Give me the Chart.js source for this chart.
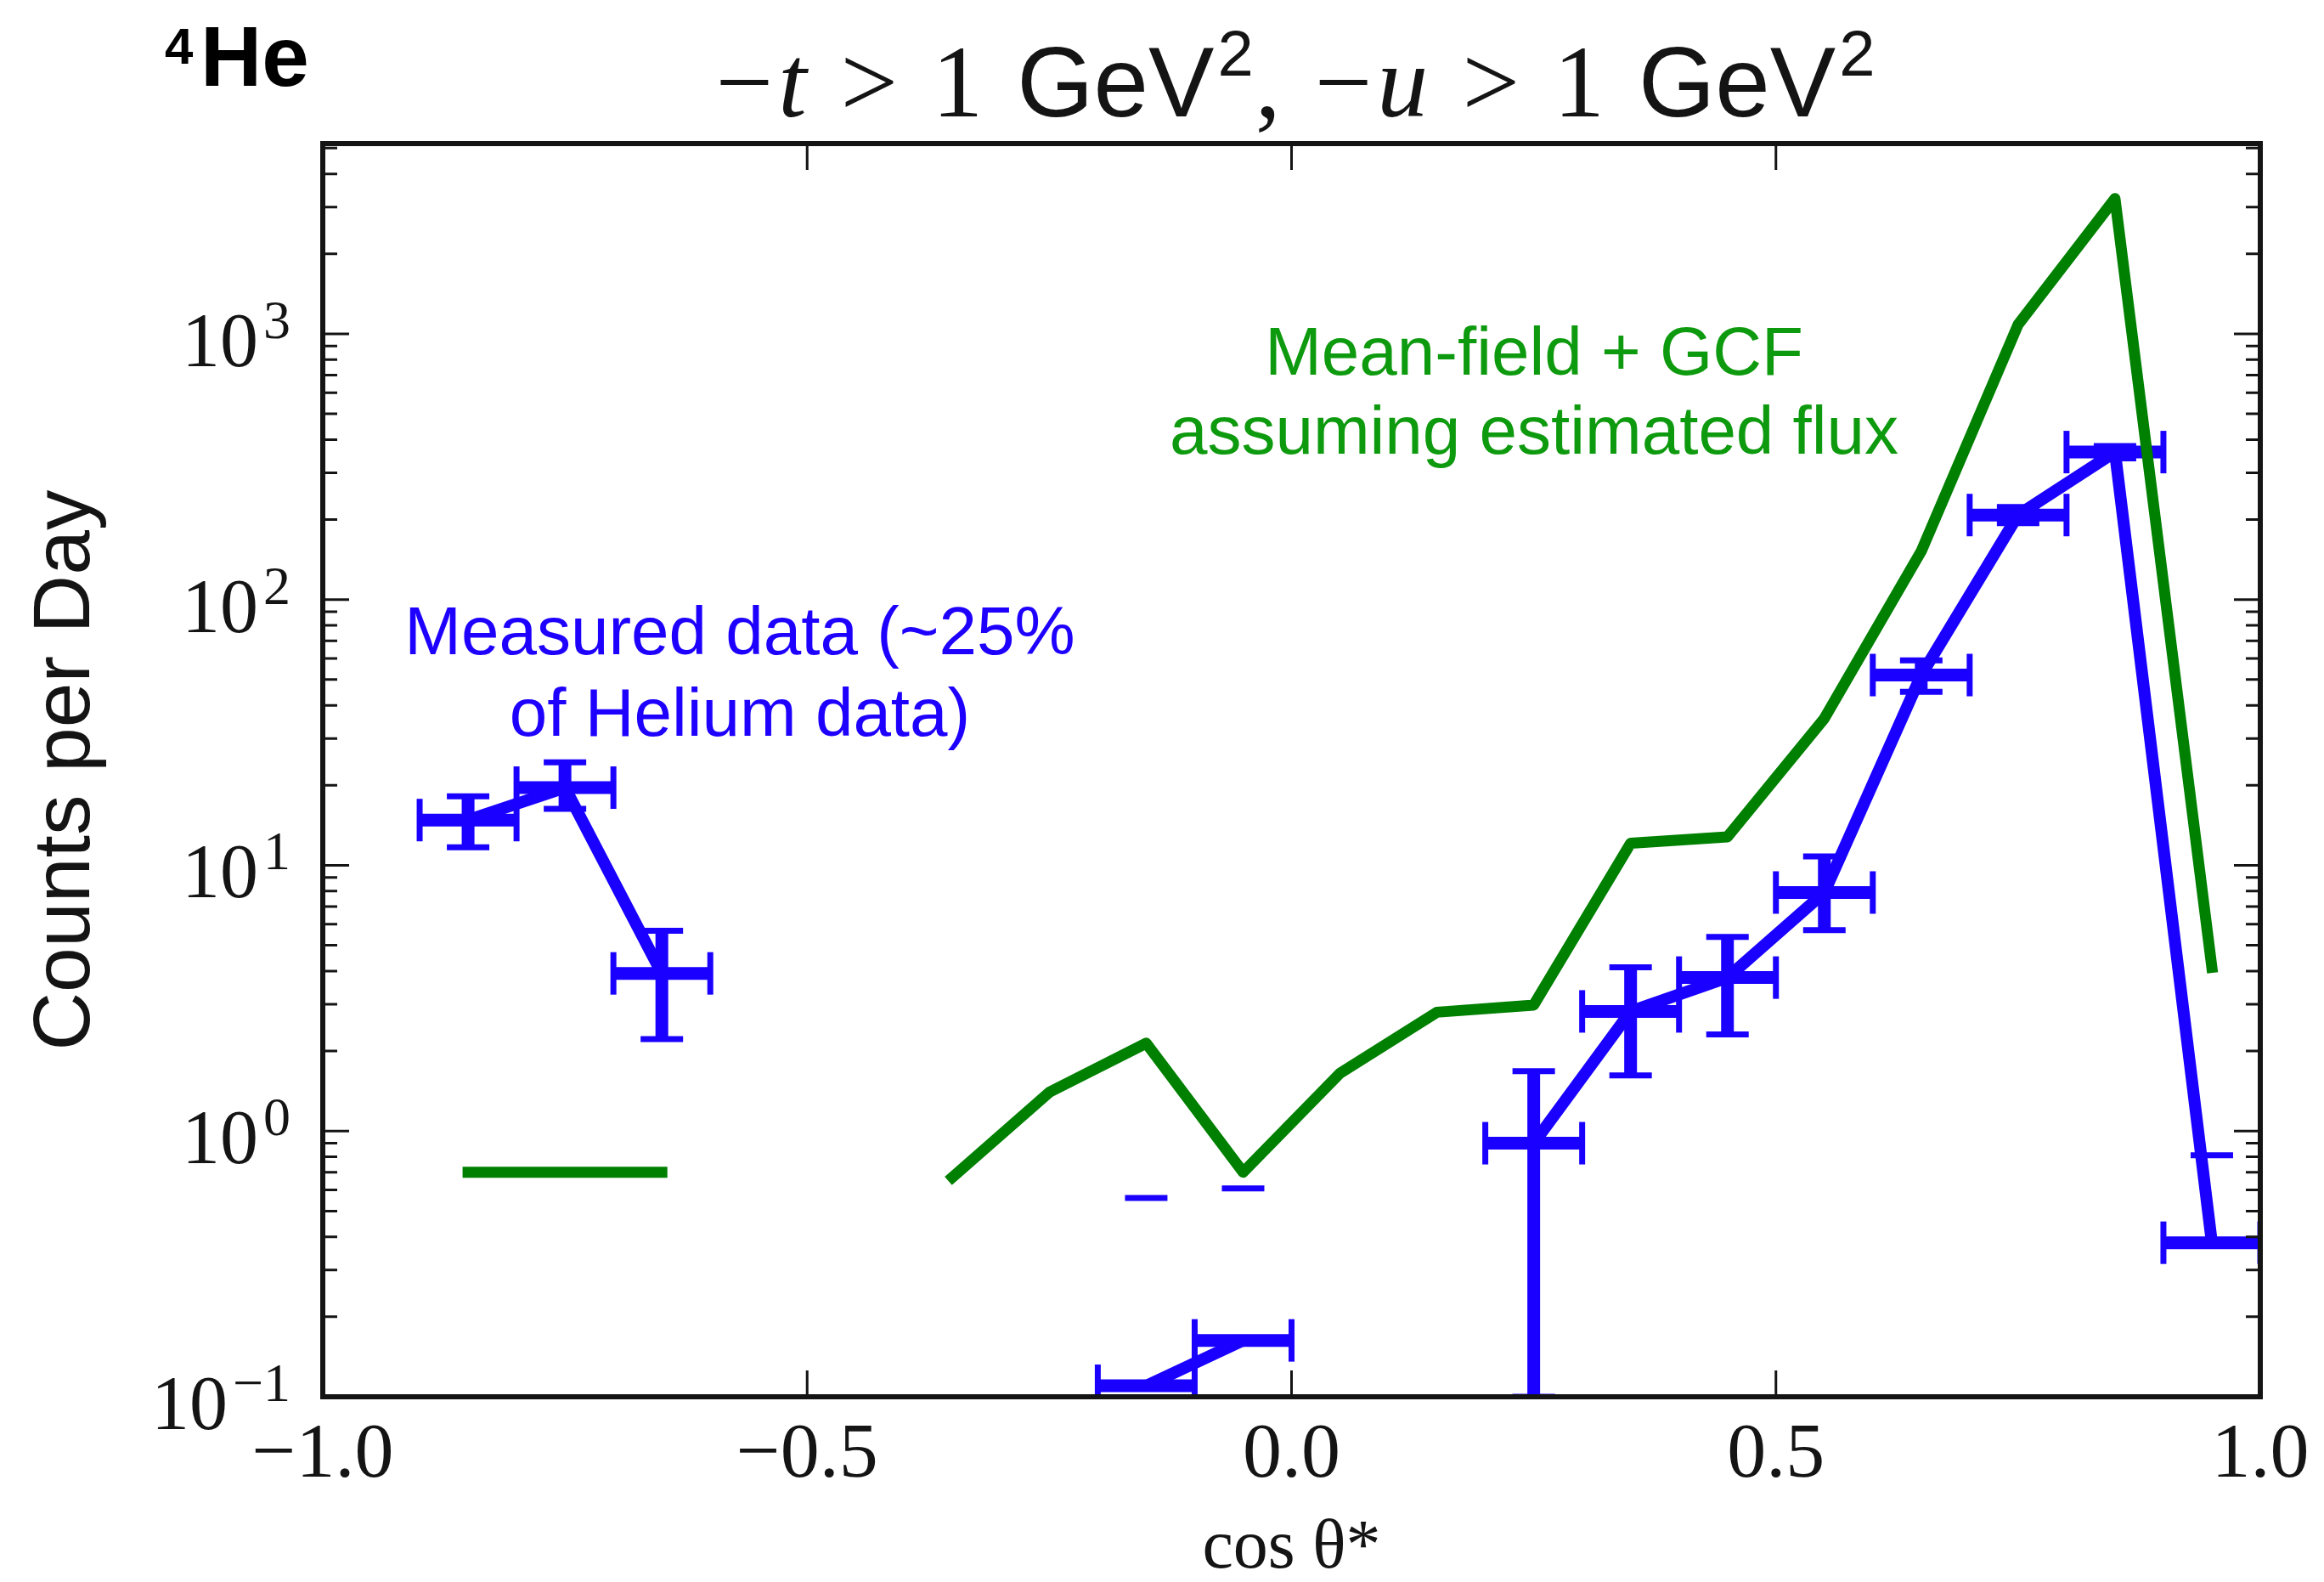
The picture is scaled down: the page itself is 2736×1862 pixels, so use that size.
<!DOCTYPE html>
<html>
<head>
<meta charset="utf-8">
<title>4He counts per day vs cos theta*</title>
<script src="https://cdn.jsdelivr.net/npm/chart.js@4.4.1/dist/chart.umd.min.js"></script>
<style>
  html, body { margin: 0; padding: 0; background: #ffffff; }
  #chart-wrap { position: relative; width: 2736px; height: 1862px; }
</style>
</head>
<body>
<div id="chart-wrap"><canvas id="chart"></canvas></div>
<script>
// bin centres in cos(theta*), each bin is +-0.05 wide
const cosThetaBins = [-0.95, -0.85, -0.75, -0.65, -0.55, -0.45, -0.35, -0.25, -0.15, -0.05,
  0.05, 0.15, 0.25, 0.35, 0.45, 0.55, 0.65, 0.75, 0.85, 0.95];
const binHalfWidth = 0.05;

// Mean-field + GCF prediction (null = empty bin, not drawn on the log axis)
const meanFieldGcf = [null, 0.70, 0.70, 0.70, null, null, 0.67, 1.40, 2.14, 0.70,
  1.65, 2.80, 2.98, 12.1, 12.8, 35.7, 152, 1084, 3228, 4.13];

// Measured data (~25% of helium data)
const measuredCounts = [null, 14.8, 19.6, 3.92, null, null, null, null, 0.11, 0.163,
  null, null, 0.90, 2.82, 3.78, 7.9, 52, 208, 359, 0.38];
const measuredErrUp = [null, 3.4, 4.8, 1.75, null, null, null, null, 0.45, 0.445,
  null, null, 0.78, 1.31, 1.6, 2.9, 7, 15, 19, 0.43];
const measuredErrDown = [null, 3.1, 3.3, 1.7, null, null, null, null, 0.45, 0.445,
  null, null, 0.80, 1.2, 1.47, 2.2, 7, 14, 19, 0.43];

// axes
const xTickValues = [-1, -0.5, 0, 0.5, 1];
const xTickLabels = ['−1.0', '−0.5', '0.0', '0.5', '1.0'];
const yDecades = [0.1, 1, 10, 100, 1000];
const yDecadeExponents = ['−1', '0', '1', '2', '3'];
const yMinorSteps = [2, 3, 4, 5, 6, 7, 8, 9];
const yMin = 0.1;
const yMax = 5200;

const GREEN = '#008000';
const BLUE = '#1900ff';
const BLUE_TEXT = '#1e00ff';
const GREEN_TEXT = '#0e9a0e';
const INK = '#141414';

const MAJOR_TICK = 31;
const MINOR_TICK = 17;

const yTicks = [];
yDecades.forEach((decade) => {
  yTicks.push({ value: decade, major: true });
  yMinorSteps.forEach((step) => {
    const value = Number((decade * step).toPrecision(3));
    if (value <= yMax) yTicks.push({ value, major: false });
  });
});

function toPoints(values) {
  return cosThetaBins.map((x, index) => ({ x, y: values[index] }));
}

function verticalErrorPoints() {
  const points = [];
  cosThetaBins.forEach((x, index) => {
    const y = measuredCounts[index];
    if (y === null) return;
    const low = y - measuredErrDown[index];
    // a lower edge at or below zero can't sit on a log axis: only the upper cap is left
    if (low > 0) points.push({ x, y: low });
    points.push({ x, y: y + measuredErrUp[index] });
    points.push({ x, y: null });
  });
  return points;
}

function horizontalErrorPoints() {
  const points = [];
  cosThetaBins.forEach((x, index) => {
    const y = measuredCounts[index];
    if (y === null) return;
    points.push({ x: x - binHalfWidth, y });
    points.push({ x: x + binHalfWidth, y });
    points.push({ x, y: null });
  });
  return points;
}

// matplotlib-like box with inward ticks on all four sides, plus 10^n labels
const axesFramePlugin = {
  id: 'axesFrame',
  afterDatasetsDraw(chart) {
    const { ctx, chartArea, scales } = chart;
    const { left, right, top, bottom } = chartArea;

    ctx.save();
    ctx.strokeStyle = INK;
    ctx.lineWidth = 3;
    ctx.beginPath();
    scales.x.ticks.forEach((tick) => {
      const px = scales.x.getPixelForValue(tick.value);
      ctx.moveTo(px, bottom);
      ctx.lineTo(px, bottom - MAJOR_TICK);
      ctx.moveTo(px, top);
      ctx.lineTo(px, top + MAJOR_TICK);
    });
    scales.y.ticks.forEach((tick) => {
      const py = scales.y.getPixelForValue(tick.value);
      const length = tick.major ? MAJOR_TICK : MINOR_TICK;
      ctx.moveTo(left, py);
      ctx.lineTo(left + length, py);
      ctx.moveTo(right, py);
      ctx.lineTo(right - length, py);
    });
    ctx.stroke();

    ctx.lineWidth = 6;
    ctx.strokeRect(left, top, right - left, bottom - top);

    // y tick labels as 10 with a raised exponent
    ctx.fillStyle = INK;
    ctx.textAlign = 'right';
    ctx.textBaseline = 'alphabetic';
    const labelRight = left - 38;
    yDecades.forEach((decade, index) => {
      const py = scales.y.getPixelForValue(decade);
      ctx.font = '64px "Liberation Serif"';
      const exponentWidth = ctx.measureText(yDecadeExponents[index]).width;
      ctx.fillText(yDecadeExponents[index], labelRight, py + 5);
      ctx.font = '90px "Liberation Serif"';
      ctx.fillText('10', labelRight - exponentWidth - 6, py + 38);
    });
    ctx.restore();
  },
};

const titleSegments = [
  { text: '−', font: '120px "Liberation Serif"', gap: 0 },
  { text: 't', font: 'italic 120px "Liberation Serif"', gap: 6 },
  { text: '>', font: '120px "Liberation Serif"', gap: 30 },
  { text: '1', font: '120px "Liberation Serif"', gap: 30 },
  { text: 'GeV', font: '116px "Liberation Sans"', gap: 30 },
  { text: '2', font: '76px "Liberation Sans"', gap: 4, rise: 48 },
  { text: ',', font: '120px "Liberation Serif"', gap: 2 },
  { text: '−', font: '120px "Liberation Serif"', gap: 30 },
  { text: 'u', font: 'italic 120px "Liberation Serif"', gap: 6 },
  { text: '>', font: '120px "Liberation Serif"', gap: 30 },
  { text: '1', font: '120px "Liberation Serif"', gap: 30 },
  { text: 'GeV', font: '116px "Liberation Sans"', gap: 30 },
  { text: '2', font: '76px "Liberation Sans"', gap: 4, rise: 48 },
];
const TITLE_CENTER_X = 1525;
const TITLE_WIDTH = 1365;
const TITLE_BASELINE = 137;

const annotations = [
  { text: 'Mean-field + GCF', x: 1806, y: 441, color: GREEN_TEXT },
  { text: 'assuming estimated flux', x: 1806, y: 534, color: GREEN_TEXT },
  { text: 'Measured data (~25%', x: 871, y: 770, color: BLUE_TEXT },
  { text: 'of Helium data)', x: 871, y: 866, color: BLUE_TEXT },
];

const figureTextPlugin = {
  id: 'figureText',
  afterDraw(chart) {
    const { ctx } = chart;
    ctx.save();
    ctx.textBaseline = 'alphabetic';
    ctx.textAlign = 'left';

    // title, built from pieces so the math symbols and units can differ;
    // spare room is shared out between the wide gaps
    let natural = 0;
    titleSegments.forEach((seg) => {
      ctx.font = seg.font;
      seg.width = ctx.measureText(seg.text).width;
      natural += seg.gap + seg.width;
    });
    const wideGaps = titleSegments.filter((seg) => seg.gap >= 30).length;
    const extra = (TITLE_WIDTH - natural) / wideGaps;
    let cursor = TITLE_CENTER_X - TITLE_WIDTH / 2;
    ctx.fillStyle = INK;
    titleSegments.forEach((seg) => {
      cursor += seg.gap + (seg.gap >= 30 ? extra : 0);
      ctx.font = seg.font;
      ctx.fillText(seg.text, cursor, TITLE_BASELINE - (seg.rise || 0));
      cursor += seg.width;
    });

    // panel label
    ctx.fillStyle = '#000000';
    ctx.font = 'bold 60px "Liberation Sans"';
    ctx.fillText('4', 194, 75);
    ctx.font = 'bold 100px "Liberation Sans"';
    ctx.fillText('He', 236, 101);

    // annotations
    ctx.textAlign = 'center';
    ctx.font = '80px "Liberation Sans"';
    annotations.forEach((note) => {
      ctx.fillStyle = note.color;
      ctx.fillText(note.text, note.x, note.y);
    });
    ctx.restore();
  },
};

Chart.register(axesFramePlugin, figureTextPlugin);

const chartContext = document.getElementById('chart').getContext('2d');

const chart = new Chart(chartContext, {
  type: 'line',
  data: {
    datasets: [
      {
        label: 'Mean-field + GCF assuming estimated flux',
        data: toPoints(meanFieldGcf),
        borderColor: GREEN,
        borderWidth: 13,
        borderJoinStyle: 'round',
        borderCapStyle: 'square',
        pointRadius: 0,
        spanGaps: false,
        tension: 0,
        order: 0,
      },
      {
        label: 'Measured data',
        data: toPoints(measuredCounts),
        borderColor: BLUE,
        borderWidth: 14,
        borderJoinStyle: 'round',
        borderCapStyle: 'butt',
        pointRadius: 0,
        spanGaps: false,
        tension: 0,
        order: 1,
      },
      {
        label: 'Measured y error',
        data: verticalErrorPoints(),
        borderColor: BLUE,
        borderWidth: 15,
        borderCapStyle: 'butt',
        pointStyle: 'line',
        pointRadius: 25,
        pointBorderWidth: 7,
        pointBorderColor: BLUE,
        pointBackgroundColor: BLUE,
        pointRotation: 0,
        spanGaps: false,
        tension: 0,
        clip: 0,
        order: 2,
      },
      {
        label: 'Measured x error',
        data: horizontalErrorPoints(),
        borderColor: BLUE,
        borderWidth: 15,
        borderCapStyle: 'butt',
        pointStyle: 'line',
        pointRadius: 25,
        pointBorderWidth: 7,
        pointBorderColor: BLUE,
        pointBackgroundColor: BLUE,
        pointRotation: 90,
        spanGaps: false,
        tension: 0,
        clip: 0,
        order: 3,
      },
    ],
  },
  options: {
    responsive: true,
    maintainAspectRatio: false,
    animation: false,
    devicePixelRatio: 1,
    events: [],
    layout: {
      padding: { top: 169, right: 75, bottom: 0, left: 0 },
    },
    plugins: {
      legend: { display: false },
      tooltip: { enabled: false },
    },
    scales: {
      x: {
        type: 'linear',
        min: -1,
        max: 1,
        grid: { display: false },
        border: { display: false },
        afterBuildTicks(scale) {
          scale.ticks = xTickValues.map((value) => ({ value }));
        },
        afterFit(scale) {
          scale.height = 218;
        },
        ticks: {
          autoSkip: false,
          maxRotation: 0,
          padding: 7,
          color: INK,
          font: { family: '"Liberation Serif"', size: 92 },
          callback(value) {
            const index = xTickValues.indexOf(value);
            return index >= 0 ? xTickLabels[index] : '';
          },
        },
        title: {
          display: true,
          text: 'cos θ*',
          color: INK,
          font: { family: '"Liberation Serif"', size: 82, lineHeight: 0.95 },
          padding: { top: 0, bottom: 0 },
        },
      },
      y: {
        type: 'logarithmic',
        min: yMin,
        max: yMax,
        bounds: 'data',
        grid: { display: false },
        border: { display: false },
        afterBuildTicks(scale) {
          scale.ticks = yTicks.map((tick) => ({ ...tick }));
        },
        afterFit(scale) {
          scale.width = 380;
        },
        ticks: {
          display: false,
          autoSkip: false,
        },
        title: {
          display: true,
          text: 'Counts per Day',
          color: INK,
          font: { family: '"Liberation Sans"', size: 95 },
          padding: { top: 22, bottom: 0 },
        },
      },
    },
  },
});
</script>
</body>
</html>
